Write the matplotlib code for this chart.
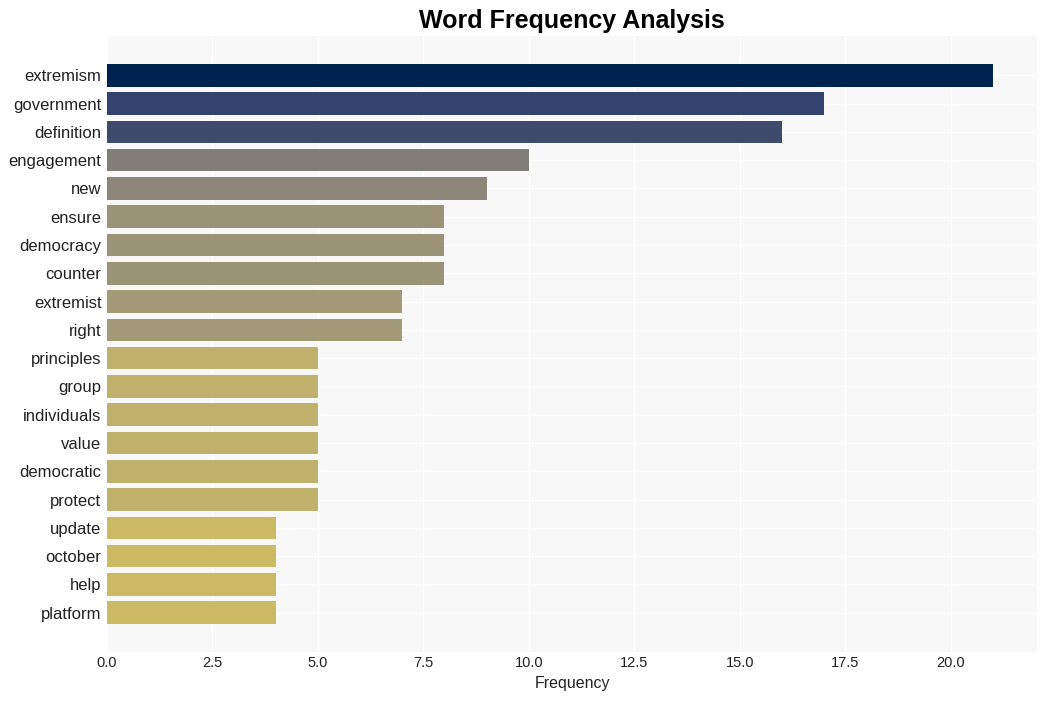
import matplotlib
matplotlib.use("Agg")
import matplotlib.pyplot as plt

words = ["extremism", "government", "definition", "engagement", "new", "ensure",
         "democracy", "counter", "extremist", "right", "principles", "group",
         "individuals", "value", "democratic", "protect", "update", "october",
         "help", "platform"]
counts = [21, 17, 16, 10, 9, 8, 8, 8, 7, 7, 5, 5, 5, 5, 5, 5, 4, 4, 4, 4]
color_by_count = {21: "#00224e", 17: "#33436d", 16: "#3e4b6c", 10: "#807e76",
                  9: "#8b8677", 8: "#9a9377", 7: "#a39b77", 5: "#bfb06b", 4: "#cbb963"}

plt.rcParams['font.family'] = ['Liberation Sans', 'DejaVu Sans']
fig = plt.figure(figsize=(10.47, 7.01), dpi=100)
ax = fig.add_axes([107/1047, 1 - 652/701, (1037-107)/1047, (652-36)/701])
ax.set_facecolor("#f8f8f8")
ypos = list(range(len(words)))
ax.barh(ypos, counts, height=0.8, color=[color_by_count[c] for c in counts], zorder=2)
ax.set_yticks(ypos)
ax.set_yticklabels(words, fontsize=12, color="#222222")
ax.invert_yaxis()
ax.set_xticks([0, 2.5, 5, 7.5, 10, 12.5, 15, 17.5, 20])
ax.set_xticklabels(["0.0", "2.5", "5.0", "7.5", "10.0", "12.5", "15.0", "17.5", "20.0"],
                   fontsize=10.5, color="#222222")
ax.grid(True, color="white", linewidth=1, zorder=0)
ax.set_axisbelow(True)
for s in ax.spines.values():
    s.set_visible(False)
ax.tick_params(axis="y", length=0, pad=4)
ax.tick_params(axis="x", length=0, pad=3)
ax.set_xlabel("Frequency", fontsize=11.5, color="#222222", labelpad=4)
ax.set_title("Word Frequency Analysis", fontsize=18, fontweight="bold", pad=6)
fig.savefig("out.png", dpi=100)
